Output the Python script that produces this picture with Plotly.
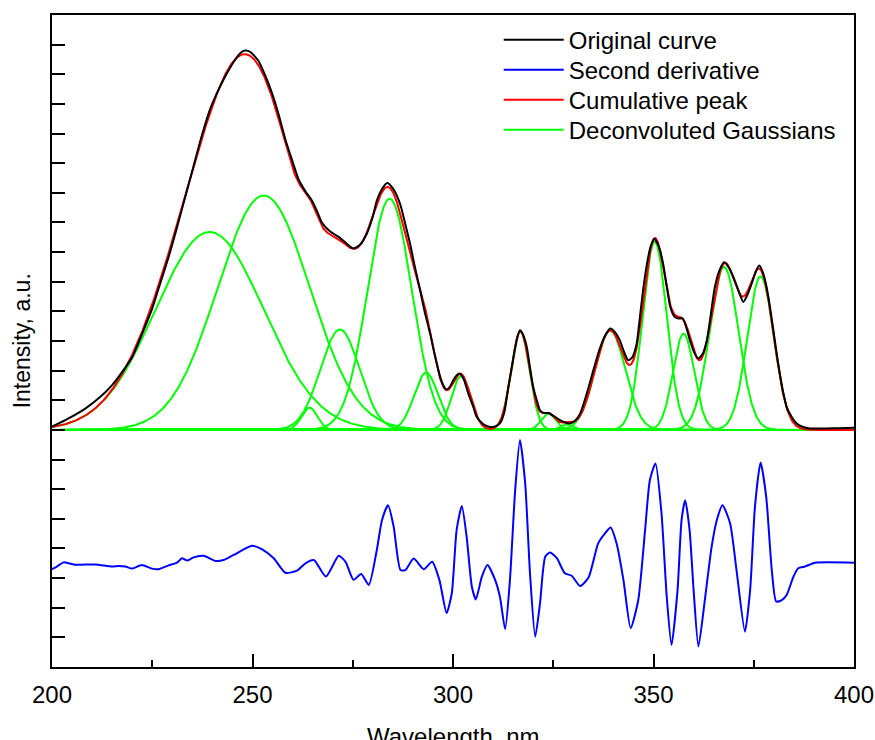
import numpy as np
import plotly.graph_objects as go

# ---------------- data ----------------
# Original curve: wavelength (nm) and intensity (a.u.; 1 unit = 1 axis tick)
orig_wl = [200, 204, 208.3, 212, 215, 218, 220, 222.5, 225, 227, 229, 231, 233, 235,
           237.4, 239.5, 241.6, 243.7, 245.7, 247, 248.2, 249.5, 251.5, 253.2, 254.9,
           256.5, 258.2, 260, 261.5, 263.2, 264.8, 266, 267.3, 269.3, 271.8, 273.5,
           275.1, 276.8, 278.5, 280, 281, 282.4, 283.6, 285, 286.8, 288, 289.3, 290.5,
           291.8, 293, 294.3, 295.5, 296.8, 297.6, 298.4, 299.2, 300.1, 301, 301.7,
           302.7, 303.8, 305, 305.9, 307.5, 309.2, 310.5, 311.7, 312.8, 313.8, 314.7,
           315.5, 316.7, 317.5, 318.4, 319.2, 320, 321, 321.7, 322.7, 323.8, 325,
           326.7, 328, 329.2, 330.5, 331.7, 333.3, 335, 336.5, 338, 339.2, 340.4,
           341.6, 342.7, 343.7, 344.7, 345.8, 346.6, 347.5, 348.5, 349.3, 350.2,
           351.3, 352.4, 353.3, 354.1, 354.8, 355.4, 356.3, 357.3, 358.2, 359.1,
           360.2, 361.2, 362.2, 363.3, 364.3, 365.3, 366.5, 367.6, 368.7, 369.9,
           371.2, 372.4, 373.4, 374.5, 375.5, 376.4, 377.3, 378.2, 379.1, 379.9,
           380.7, 381.5, 382.3, 383.2, 384.4, 385.7, 387.3, 389, 393, 396.5, 400]
orig_int = [0.11, 0.38, 0.72, 1.11, 1.51, 2.05, 2.45, 3.25, 4.1, 4.95, 5.8, 6.75, 7.75, 8.75,
            9.95, 10.85, 11.5, 12.05, 12.5, 12.72, 12.8, 12.75, 12.45, 11.95, 11.35,
            10.65, 9.8, 9.05, 8.45, 8.05, 7.74, 7.41, 7.0, 6.7, 6.48, 6.28,
            6.12, 6.25, 6.62, 7.2, 7.74, 8.15, 8.33, 8.15, 7.63, 7.0, 6.28, 5.5,
            4.71, 3.95, 3.25, 2.5, 1.79, 1.5, 1.36, 1.45, 1.68, 1.85, 1.9,
            1.7, 1.23, 0.8, 0.44, 0.2, 0.1, 0.12, 0.22, 0.6, 1.45, 2.15,
            2.8, 3.36, 3.2, 2.8, 2.1, 1.45, 0.95, 0.66, 0.57, 0.57, 0.48,
            0.33, 0.25, 0.22, 0.32, 0.55, 1.2, 2.01, 2.7, 3.2, 3.42, 3.3,
            3.02, 2.62, 2.35, 2.45, 2.91, 3.8, 4.82, 5.7, 6.2, 6.45,
            6.2, 5.61, 4.85, 4.2, 3.92, 3.8, 3.76, 3.76, 3.45, 3.02,
            2.6, 2.41, 2.55, 3.02, 3.9, 4.82, 5.4, 5.66, 5.5, 5.16,
            4.7, 4.32, 4.55, 4.94, 5.35, 5.55, 5.3, 4.82, 4.1, 3.36,
            2.6, 1.9, 1.3, 0.78, 0.45, 0.22, 0.1, 0.05, 0.05, 0.06, 0.07]

# Second derivative: wavelength (nm) and value relative to its own zero line
deriv_wl = [200, 201.2, 202.9, 204.2, 205.8, 210.8, 215, 216.6, 218.3, 220, 222.4,
            224.9, 226.6, 229.1, 231.2, 232.4, 233.7, 235.3, 237.8, 240.7, 242.8,
            245.3, 249.9, 252.4, 255.3, 258.2, 261.1, 263.2, 265.3, 268.3, 271.5,
            273.2, 275.2, 277.1, 279, 281, 282.3, 283.8, 285.2, 286.9, 288.1, 290.2,
            292.7, 294.8, 296.6, 298.4, 299.7, 300.9, 302.2, 303.4, 304.7, 305.7,
            307.2, 308.6, 310.5, 311.7, 313, 314.2, 315.5, 316.7, 318, 319.2, 320.5,
            321.7, 323, 324.2, 325.9, 327.9, 329.6, 331.7, 333.8, 336.2, 337.9,
            339.3, 340.8, 342.5, 344.3, 346.2, 347.9, 349.1, 350.5, 352, 353.3,
            354.5, 356, 357, 357.9, 359, 360, 361.2, 362.9, 364.5, 365.8, 367.2,
            369.1, 370.7, 372.8, 374.1, 375.3, 376.7, 378.1, 379.5, 380.6, 382,
            383.2, 384.9, 386.1, 387.8, 390.3, 400]
deriv_val = [-0.22, -0.13, 0.01, -0.02, -0.07, -0.06, -0.13, -0.11, -0.13, -0.2, -0.08,
             -0.2, -0.22, -0.09, 0.0, 0.15, 0.07, 0.18, 0.23, 0.06, 0.09,
             0.26, 0.57, 0.45, 0.15, -0.34, -0.27, -0.02, 0.09, -0.47, 0.23,
             0.03, -0.58, -0.38, -0.75, 0.43, 1.44, 1.94, 1.22, -0.25, -0.25, 0.14,
             -0.22, 0.03, -0.58, -1.7, -1.03, 1.1, 1.91, 0.88, -0.81, -1.24,
             -0.47, -0.08, -0.58, -1.15, -2.24, -0.58, 2.45, 4.14, 2.68, -0.36, -2.5,
             -1.37, 0.2, 0.34, 0.15, -0.36, -0.44, -0.79, -0.5, 0.65, 0.99,
             1.19, 0.65, -0.58, -2.21, -1.26, 1.1, 2.79, 3.35, 1.66, -1.15,
             -2.78, -0.92, 1.44, 2.11, 1.1, -0.92, -2.83, -1.15, 0.54, 1.44, 1.94,
             1.33, -0.25, -2.33, -0.92, 1.89, 3.38, 2.23, -0.25, -1.31, -1.26,
             -1.09, -0.47, -0.19, -0.13, 0.0, 0.0]

# Deconvoluted Gaussian components: centre (nm), height (a.u.), FWHM (nm)
gauss_center = [239.3, 252.8, 264.2, 271.8, 284.2, 293.3, 302.0, 316.8, 323.8, 328.3,
                339.2, 350.3, 357.5, 367.6, 376.7]
gauss_height = [6.68, 7.91, 0.75, 3.39, 7.80, 1.93, 1.82, 3.33, 0.55, 0.18,
                3.35, 6.35, 3.25, 5.50, 5.18]
gauss_fwhm = [31.8, 27.1, 4.7, 11.5, 13.0, 7.1, 5.65, 5.4, 4.2, 3.5,
              8.9, 7.05, 6.2, 8.5, 7.8]

x_tick_vals = [200, 250, 300, 350, 400]
legend_names = ["Original curve", "Second derivative", "Cumulative peak",
                "Deconvoluted Gaussians"]

# vertical placement of the two stacked curves on the shared (unlabelled) axis
SPECTRA_OFFSET = 8.0
DERIV_OFFSET = 3.52

FONT = "Liberation Sans, Arial, sans-serif"

# ---------------- build ----------------
wl = np.linspace(200, 400, 1601)
components = []
for c, h, w in zip(gauss_center, gauss_height, gauss_fwhm):
    components.append(h * np.exp(-4 * np.log(2) * (wl - c) ** 2 / w ** 2))
cumulative = np.sum(components, axis=0)

fig = go.Figure()

for i, comp in enumerate(components):
    fig.add_trace(go.Scatter(
        x=wl, y=comp + SPECTRA_OFFSET, mode="lines",
        line=dict(color="#00ff00", width=2),
        name=legend_names[3], legendgroup="g", showlegend=(i == 0),
        legend="legend4", hoverinfo="skip"))

fig.add_trace(go.Scatter(
    x=wl, y=cumulative + SPECTRA_OFFSET, mode="lines",
    line=dict(color="#ff0000", width=2),
    name=legend_names[2], legend="legend3"))

fig.add_trace(go.Scatter(
    x=orig_wl, y=np.array(orig_int) + SPECTRA_OFFSET, mode="lines",
    line=dict(color="#000000", width=2, shape="spline", smoothing=0.6),
    name=legend_names[0], legend="legend"))

fig.add_trace(go.Scatter(
    x=deriv_wl, y=np.array(deriv_val) + DERIV_OFFSET, mode="lines",
    line=dict(color="#0000ff", width=2, shape="spline", smoothing=0.6),
    name=legend_names[1], legend="legend2"))


def legend_row(yc):
    return dict(x=0.557, y=yc, xanchor="left", yanchor="middle",
                bgcolor="rgba(0,0,0,0)", borderwidth=0,
                font=dict(family=FONT, size=24, color="black"),
                itemwidth=60)


fig.update_layout(
    width=875, height=740,
    margin=dict(l=52, r=21, t=15, b=73, autoexpand=False),
    paper_bgcolor="white", plot_bgcolor="white",
    font=dict(family=FONT, size=24, color="black"),
    showlegend=True,
    legend=legend_row(0.9615),
    legend2=legend_row(0.9155),
    legend3=legend_row(0.8695),
    legend4=legend_row(0.8235),
    xaxis=dict(range=[200, 400], tickvals=x_tick_vals, automargin=False,
               ticks="inside", ticklen=13, tickwidth=2, tickcolor="black",
               minor=dict(dtick=25, ticks="inside", ticklen=7, tickwidth=2,
                          tickcolor="black", showgrid=False),
               showline=True, linewidth=2, linecolor="black", mirror=True,
               showgrid=False, zeroline=False,
               tickfont=dict(family=FONT, size=24), ticklabelstandoff=5),
    yaxis=dict(range=[0, 22], dtick=1, tick0=0, automargin=False,
               ticks="inside", ticklen=13, tickwidth=2, tickcolor="black",
               showticklabels=False,
               showline=True, linewidth=2, linecolor="black", mirror=True,
               showgrid=False, zeroline=False),
    annotations=[
        dict(text="Wavelength, nm", xref="paper", yref="paper", x=0.5, y=-0.083,
             xanchor="center", yanchor="top", showarrow=False,
             font=dict(family=FONT, size=24)),
        dict(text="Intensity, a.u.", xref="paper", yref="paper", x=-0.037, y=0.5,
             xanchor="center", yanchor="middle", textangle=-90, showarrow=False,
             font=dict(family=FONT, size=23)),
    ],
)

fig.write_html("out.html",
               config={"displayModeBar": False},
               post_script="document.body.style.margin='0';"
                           "document.body.style.overflow='hidden';")
